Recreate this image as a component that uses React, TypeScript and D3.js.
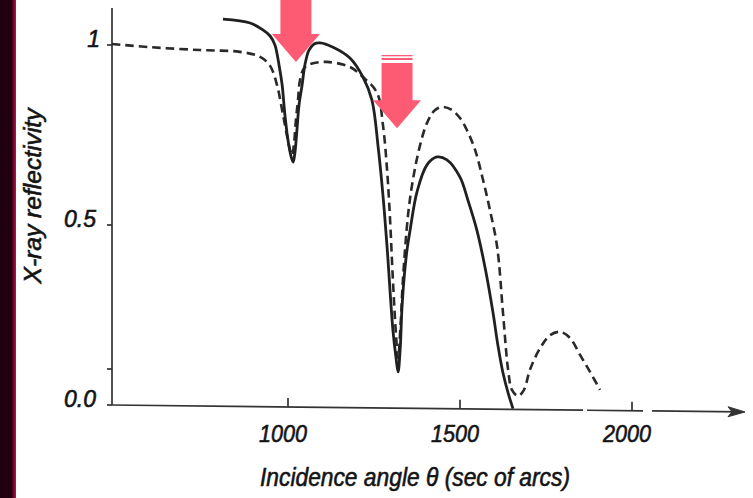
import React from "react";
import * as d3 from "d3";

// Incidence angle (sec of arc) / reflectivity
const solidTheta = [811, 890, 927, 948, 962, 974, 983, 991, 1000, 1009, 1015, 1020, 1026, 1032, 1041, 1049, 1061, 1076, 1093, 1131, 1180, 1218, 1244, 1262, 1276, 1288, 1305, 1314, 1320, 1326, 1331, 1337, 1346, 1355, 1375, 1404, 1433, 1462, 1500, 1523, 1549, 1573, 1596, 1610, 1625, 1640, 1654];
const solidR = [1.072, 1.061, 1.042, 1.025, 1.0, 0.944, 0.889, 0.806, 0.736, 0.69, 0.675, 0.7, 0.764, 0.833, 0.889, 0.944, 0.986, 1.003, 1.006, 0.994, 0.964, 0.911, 0.847, 0.717, 0.583, 0.439, 0.208, 0.131, 0.092, 0.153, 0.264, 0.347, 0.431, 0.486, 0.592, 0.667, 0.689, 0.681, 0.633, 0.569, 0.486, 0.381, 0.256, 0.167, 0.089, 0.033, -0.01];

const dashedTheta = [488, 599, 744, 860, 919, 948, 968, 983, 994, 1006, 1012, 1017, 1023, 1029, 1035, 1047, 1064, 1113, 1180, 1218, 1259, 1276, 1288, 1296, 1305, 1314, 1320, 1328, 1334, 1349, 1363, 1384, 1404, 1427, 1451, 1477, 1500, 1520, 1544, 1567, 1587, 1608, 1625, 1640, 1651, 1669, 1686, 1703, 1733, 1762, 1791, 1820, 1849, 1878, 1907];
const dashedR = [1.003, 0.994, 0.986, 0.981, 0.967, 0.942, 0.889, 0.819, 0.764, 0.708, 0.694, 0.722, 0.792, 0.847, 0.903, 0.936, 0.947, 0.953, 0.939, 0.911, 0.867, 0.778, 0.653, 0.528, 0.347, 0.194, 0.13, 0.236, 0.347, 0.528, 0.625, 0.722, 0.783, 0.819, 0.828, 0.819, 0.797, 0.764, 0.708, 0.625, 0.542, 0.439, 0.256, 0.097, 0.042, 0.025, 0.042, 0.097, 0.158, 0.194, 0.203, 0.186, 0.139, 0.092, 0.042];

const xTicks = [1000, 1500, 2000];
const xTickLabels = ["1000", "1500", "2000"];
const yTicks = [0, 0.1, 0.5, 1];
const yTickLabels = ["0.0", "0.5", "1"];
const yLabelValues = [0, 0.5, 1];

// arrows: theta of tip, reflectivity of tip, top reflectivity
const arrowTheta = [1023, 1317];
const arrowTipR = [0.953, 0.769];
const arrowTopR = [1.125, 0.95];

export default function App() {
  const W = 753, H = 498;
  const x = d3.scaleLinear().domain([1000, 2000]).range([288, 632]);
  const y = d3.scaleLinear().domain([0, 1]).range([405, 45]);
  const axisX0 = 112;
  const axisTilt = (px: number) => 405 + (px - axisX0) * 0.011;

  const line = d3
    .line<[number, number]>()
    .x((d) => x(d[0]))
    .y((d) => y(d[1]))
    .curve(d3.curveCatmullRom.alpha(0.5));

  const solidPts = solidTheta.map((t, i) => [t, solidR[i]] as [number, number]);
  const dashedPts = dashedTheta.map((t, i) => [t, dashedR[i]] as [number, number]);

  const font = "'Liberation Sans', Arial, sans-serif";
  const ink = "#141414";
  const pink = "#fd5a74";
  const textStroke = { stroke: ink, strokeWidth: 0.6 };

  const segs: [number, number][] = [
    [axisX0, 583],
    [587, 643],
    [652, 740],
  ];

  return (
    <svg width={W} height={H} style={{ position: "absolute", left: 0, top: 0, background: "#fff" }}>
      <defs>
        <linearGradient id="edge" x1="0" x2="1" y1="0" y2="0">
          <stop offset="0" stopColor="#3a0018" />
          <stop offset="1" stopColor="#c4104e" />
        </linearGradient>
      </defs>
      <rect x={0} y={0} width={W} height={H} fill="#fff" />
      <rect x={0} y={0} width={12} height={H} fill="#200010" />
      <rect x={12} y={0} width={4} height={H} fill="url(#edge)" />

      {/* y axis */}
      <line x1={axisX0} x2={axisX0} y1={8} y2={405} stroke="#333" strokeWidth={1.7} />
      {yTicks.map((v) => (
        <line key={v} x1={axisX0 - 5} x2={axisX0} y1={y(v)} y2={y(v)} stroke="#333" strokeWidth={1.7} />
      ))}
      {yLabelValues.map((v, i) => (
        <text
          key={v}
          x={v === 1 ? 100 : 96}
          y={y(v) + 2}
          textAnchor="end"
          fontFamily={font}
          fontStyle="italic"
          fontSize={23}
          fill={ink}
          {...textStroke}
        >
          {yTickLabels[i]}
        </text>
      ))}
      <text
        transform={`translate(41,196) rotate(-90)`}
        textAnchor="middle"
        fontFamily={font}
        fontStyle="italic"
        fontSize={24}
        textLength={175}
        lengthAdjust="spacingAndGlyphs"
        fill={ink}
        {...textStroke}
      >
        X-ray reflectivity
      </text>

      {/* x axis */}
      {segs.map((s, i) => (
        <line key={i} x1={s[0]} x2={s[1]} y1={axisTilt(s[0])} y2={axisTilt(s[1])} stroke="#333" strokeWidth={1.7} />
      ))}
      <path
        d={`M${728},${axisTilt(728) - 5} L745,${axisTilt(745)} L${728},${axisTilt(728) + 5} L732,${axisTilt(732)} Z`}
        fill="#333"
        stroke="#333"
        strokeWidth={1}
      />
      {xTicks.map((v) => (
        <line key={v} x1={x(v)} x2={x(v)} y1={axisTilt(x(v)) - 9} y2={axisTilt(x(v))} stroke="#333" strokeWidth={1.7} />
      ))}
      {xTicks.map((v, i) => (
        <text
          key={v}
          x={x(v) - 5}
          y={442}
          textAnchor="middle"
          fontFamily={font}
          fontStyle="italic"
          fontSize={24}
          textLength={48}
          lengthAdjust="spacingAndGlyphs"
          fill={ink}
          {...textStroke}
        >
          {xTickLabels[i]}
        </text>
      ))}
      <text
        x={260}
        y={486}
        fontFamily={font}
        fontStyle="italic"
        fontSize={25}
        textLength={310}
        lengthAdjust="spacingAndGlyphs"
        fill={ink}
        {...textStroke}
      >
        Incidence angle θ (sec of arcs)
      </text>

      {/* curves */}
      <path d={line(dashedPts) || ""} fill="none" stroke="#2a2a2a" strokeWidth={2.6} strokeDasharray="8.5 5" />
      <path d={line(solidPts) || ""} fill="none" stroke="#202020" strokeWidth={2.8} />

      {/* arrows */}
      {arrowTheta.map((t, i) => {
        const cx = x(t);
        const tip = y(arrowTipR[i]);
        const top = y(arrowTopR[i]);
        const headLen = 28;
        const sw = 15.5;
        const hw = 24;
        const base = tip - headLen;
        const d = `M${cx - sw},${top} L${cx + sw},${top} L${cx + sw},${base} L${cx + hw},${base} L${cx},${tip} L${cx - hw},${base} L${cx - sw},${base} Z`;
        return (
          <g key={t}>
            <path d={d} fill={pink} />
            {i === 1 && (
              <>
                <rect x={cx - sw} y={top - 8} width={sw * 2} height={1.3} fill={pink} />
                <rect x={cx - sw} y={top - 5} width={sw * 2} height={2} fill={pink} />
              </>
            )}
          </g>
        );
      })}
    </svg>
  );
}
